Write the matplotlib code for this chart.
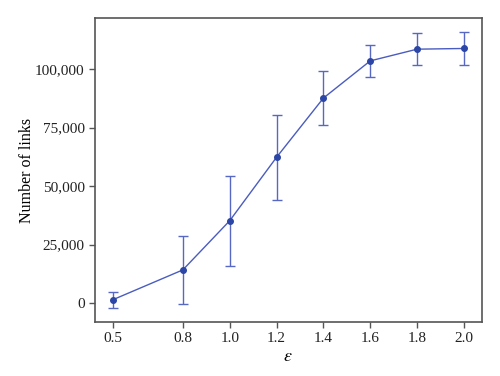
import numpy as np
import matplotlib.pyplot as plt
from matplotlib.ticker import FuncFormatter

# data
eps = [0.5, 0.8, 1.0, 1.2, 1.4, 1.6, 1.8, 2.0]
links = [1400, 14200, 35200, 62300, 87600, 103500, 108500, 108800]
err = [3500, 14600, 19200, 18100, 11700, 6900, 6900, 7100]
xticks = [0.5, 0.8, 1.0, 1.2, 1.4, 1.6, 1.8, 2.0]
yticks = [0, 25000, 50000, 75000, 100000]

plt.rcParams['font.family'] = ['Liberation Serif', 'DejaVu Serif']
plt.rcParams['mathtext.fontset'] = 'stix'

fig = plt.figure(figsize=(5, 3.76), dpi=100)
ax = fig.add_axes([0.19, 0.144, 0.773, 0.808])

ax.errorbar(eps, links, yerr=err, color='#4a5cc0', lw=1.0, marker='o', ms=4,
            mfc='#2b46a6', mec='#2b46a6', ecolor='#5668c4', elinewidth=1.0,
            capsize=3.5, capthick=1.0)

ax.set_xticks(xticks)
ax.set_xticklabels(['%.1f' % v for v in xticks])
ax.set_yticks(yticks)
ax.yaxis.set_major_formatter(FuncFormatter(lambda v, p: '{:,.0f}'.format(v)))
ax.tick_params(direction='out', length=4, width=1, labelsize=11, colors='#222222')
ax.tick_params(axis='both', color='#555555')
for s in ax.spines.values():
    s.set_color('#555555')
    s.set_linewidth(1.2)

ax.set_xlabel(r'$\varepsilon$', fontsize=13, labelpad=2)
ax.set_ylabel('Number of links', fontsize=11.5, labelpad=0)

fig.savefig('out.png', dpi=100)
